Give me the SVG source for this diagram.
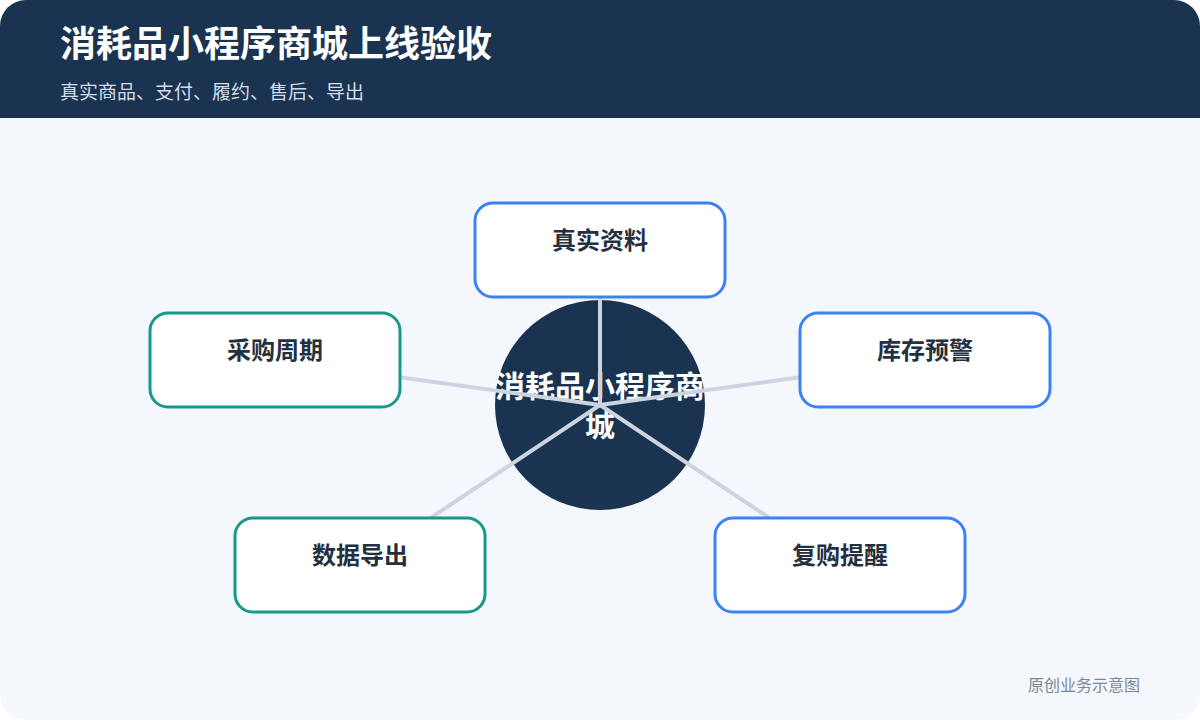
<svg xmlns="http://www.w3.org/2000/svg" width="1200" height="720" viewBox="0 0 1200 720">
  <defs>
    <clipPath id="card"><rect x="0" y="0" width="1200" height="720" rx="26" ry="26"/></clipPath>
    <style>
      .cjk { font-family: "Noto Sans CJK SC", "Noto Sans", sans-serif; }
      .node rect { fill: #ffffff; stroke-width: 3; }
      .blue rect { stroke: #3B82F6; }
      .teal rect { stroke: #17998A; }
      .node text { font-size: 24px; font-weight: 700; fill: #243040; text-anchor: middle; dominant-baseline: central; }
      .conn line { stroke: #CBD5E1; stroke-width: 4; stroke-linecap: round; }
    </style>
  </defs>
  <rect x="0" y="0" width="1200" height="720" fill="#ffffff"/>
  <g clip-path="url(#card)">
    <rect x="0" y="0" width="1200" height="720" fill="#F4F7FC"/>
    <rect x="0" y="0" width="1200" height="118" fill="#1A3350"/>
  </g>
  <text class="cjk" x="60" y="57" font-size="36" font-weight="700" fill="#ffffff">消耗品小程序商城上线验收</text>
  <text class="cjk" x="60" y="99" font-size="19" fill="#D3DCE8">真实商品、支付、履约、售后、导出</text>

  <g id="center">
    <circle cx="600" cy="405" r="105" fill="#1A3350"/>
    <text class="cjk" font-size="30" font-weight="700" fill="#ffffff" text-anchor="middle" dominant-baseline="central"><tspan x="600" y="384">消耗品小程序商</tspan><tspan x="600" y="423">城</tspan></text>
  </g>

  <g id="connectors" class="conn">
    <line x1="600" y1="405" x2="600" y2="250"/>
    <line x1="600" y1="405" x2="925" y2="360"/>
    <line x1="600" y1="405" x2="840" y2="565"/>
    <line x1="600" y1="405" x2="360" y2="565"/>
    <line x1="600" y1="405" x2="275" y2="360"/>
  </g>

  <g id="node-zhenshi" class="node blue cjk">
    <rect x="475" y="203" width="250" height="94" rx="18"/>
    <text x="600" y="238">真实资料</text>
  </g>
  <g id="node-kucun" class="node blue cjk">
    <rect x="800" y="313" width="250" height="94" rx="18"/>
    <text x="925" y="348">库存预警</text>
  </g>
  <g id="node-fugou" class="node blue cjk">
    <rect x="715" y="518" width="250" height="94" rx="18"/>
    <text x="840" y="553">复购提醒</text>
  </g>
  <g id="node-shuju" class="node teal cjk">
    <rect x="235" y="518" width="250" height="94" rx="18"/>
    <text x="360" y="553">数据导出</text>
  </g>
  <g id="node-caigou" class="node teal cjk">
    <rect x="150" y="313" width="250" height="94" rx="18"/>
    <text x="275" y="348">采购周期</text>
  </g>

  <text class="cjk" x="1140" y="691" font-size="16" fill="#7C8799" text-anchor="end">原创业务示意图</text>
</svg>
